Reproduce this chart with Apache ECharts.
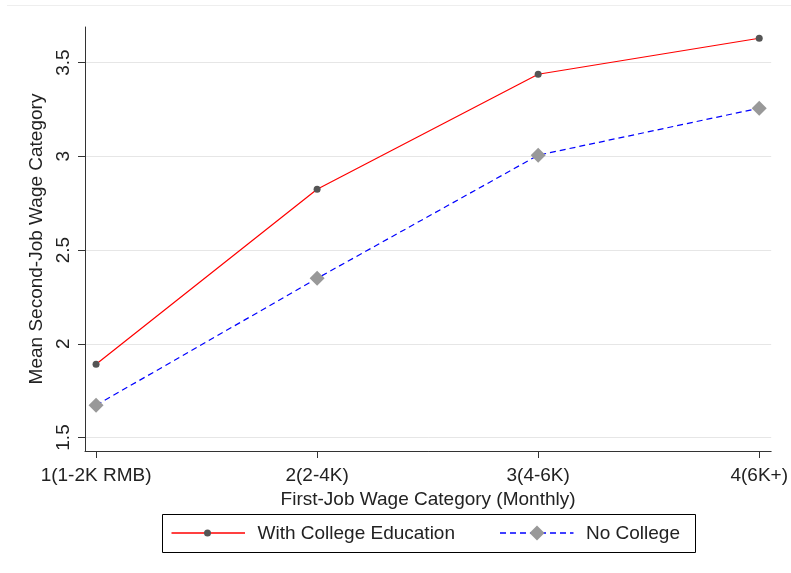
<!DOCTYPE html>
<html>
<head>
<meta charset="utf-8">
<script src="https://cdn.jsdelivr.net/npm/echarts@6/dist/echarts.min.js"></script>
<style>
html,body{margin:0;padding:0;background:#fff;}
#c{width:791px;height:573px;}
</style>
</head>
<body>
<div id="c"></div>
<script>
var categories = ['1(1-2K RMB)', '2(2-4K)', '3(4-6K)', '4(6K+)'];
var xPositions = [1, 2, 3, 4];
var withCollege = [1.891, 2.824, 3.438, 3.630];
var noCollege = [1.672, 2.349, 3.006, 3.257];
var yTicks = [1.5, 2, 2.5, 3, 3.5];
var seriesNames = ['With College Education', 'No College'];

var FONT = '"Liberation Sans", Arial, sans-serif';
var chart = echarts.init(document.getElementById('c'), null, {renderer: 'canvas'});

function pairs(vals) {
  return xPositions.map(function (x, i) { return [x, vals[i]]; });
}

var legendY = 533;

chart.setOption({
  animation: false,
  backgroundColor: '#ffffff',
  textStyle: {fontFamily: FONT},
  grid: {left: 85, right: 19, top: 27, bottom: 122, containLabel: false},
  graphic: [{
    type: 'line',
    shape: {x1: 7, y1: 5.5, x2: 791, y2: 5.5},
    style: {stroke: '#eeeeee', lineWidth: 1},
    silent: true
  }, {
    type: 'group',
    silent: true,
    children: [{
      type: 'rect',
      shape: {x: 162.5, y: 514.5, width: 533, height: 38},
      style: {fill: '#ffffff', stroke: '#000000', lineWidth: 1}
    }, {
      type: 'line',
      shape: {x1: 171.5, y1: legendY, x2: 245, y2: legendY},
      style: {stroke: '#ff0000', lineWidth: 1.6}
    }, {
      type: 'circle',
      shape: {cx: 207.5, cy: legendY, r: 3.5},
      style: {fill: '#555555'}
    }, {
      type: 'text',
      x: 257.5, y: legendY + 0.5,
      style: {text: seriesNames[0], font: '19px ' + FONT, fill: '#222', textVerticalAlign: 'middle', verticalAlign: 'middle'}
    }, {
      type: 'line',
      shape: {x1: 500, y1: legendY, x2: 573.5, y2: legendY},
      style: {stroke: '#0000ff', lineWidth: 1.6, lineDash: [6, 4]}
    }, {
      type: 'polygon',
      shape: {points: [[537, legendY - 7.5], [544.5, legendY], [537, legendY + 7.5], [529.5, legendY]]},
      style: {fill: '#999999'}
    }, {
      type: 'text',
      x: 586, y: legendY + 0.5,
      style: {text: seriesNames[1], font: '19px ' + FONT, fill: '#222', textVerticalAlign: 'middle', verticalAlign: 'middle'}
    }]
  }],
  xAxis: {
    type: 'value',
    min: 0.95,
    max: 4.054,
    name: 'First-Job Wage Category (Monthly)',
    nameLocation: 'middle',
    nameGap: 34,
    nameTextStyle: {fontFamily: FONT, fontSize: 19, color: '#222'},
    axisLine: {show: true, onZero: false, lineStyle: {color: '#333', width: 1}},
    axisTick: {show: true, length: 7, customValues: xPositions, lineStyle: {color: '#333'}},
    axisLabel: {
      customValues: xPositions,
      margin: 15,
      fontFamily: FONT, fontSize: 19, color: '#222',
      formatter: function (v) { return categories[Math.round(v) - 1] || ''; }
    },
    splitLine: {show: false}
  },
  yAxis: {
    type: 'value',
    min: 1.428,
    max: 3.69,
    name: 'Mean Second-Job Wage Category',
    nameLocation: 'middle',
    nameGap: 38,
    nameRotate: 90,
    nameTextStyle: {fontFamily: FONT, fontSize: 19, color: '#222'},
    axisLine: {show: true, onZero: false, lineStyle: {color: '#333', width: 1}},
    axisTick: {show: true, length: 7, customValues: yTicks, lineStyle: {color: '#333'}},
    axisLabel: {
      customValues: yTicks,
      rotate: 90,
      margin: 12,
      fontFamily: FONT, fontSize: 19, color: '#222',
      formatter: function (v) { return String(v); }
    },
    splitLine: {show: true, lineStyle: {color: '#e6e6e6', width: 1}}
  },
  series: [{
    name: seriesNames[0],
    type: 'line',
    data: pairs(withCollege),
    symbol: 'circle',
    symbolSize: 7,
    itemStyle: {color: '#555555'},
    lineStyle: {color: '#ff0000', width: 1.2},
    z: 3
  }, {
    name: seriesNames[1],
    type: 'line',
    data: pairs(noCollege),
    symbol: 'diamond',
    symbolSize: 15,
    itemStyle: {color: '#999999'},
    lineStyle: {color: '#0000ff', width: 1.2, type: [6, 4]},
    z: 2
  }]
});
</script>
</body>
</html>
